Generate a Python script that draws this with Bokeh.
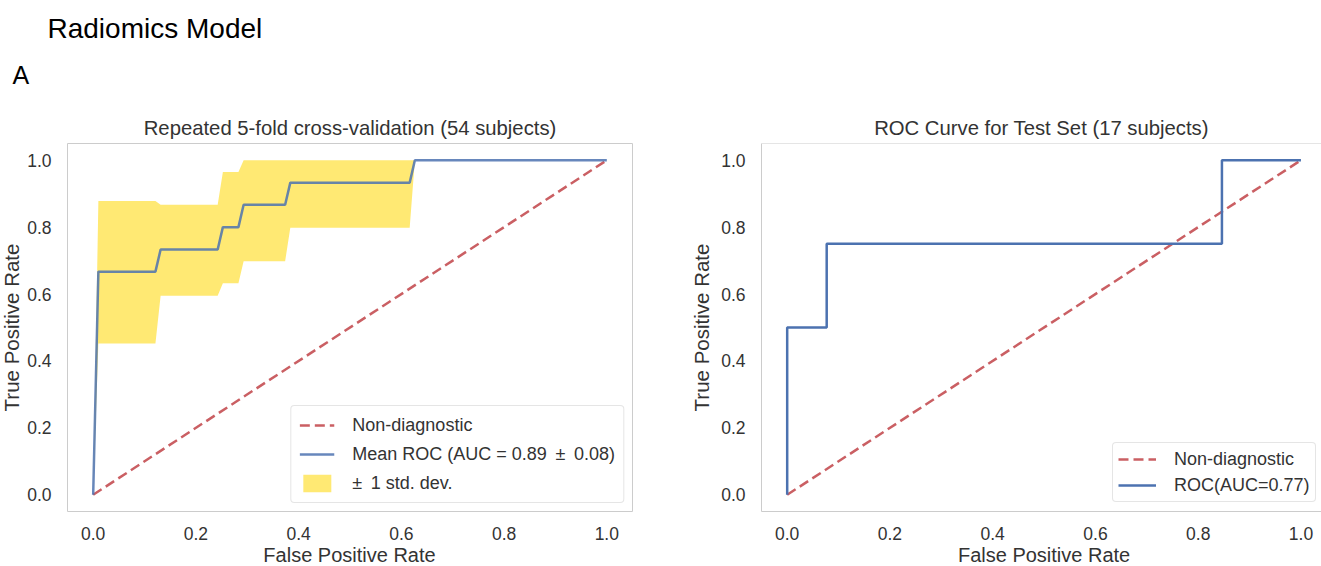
import math

from bokeh.plotting import figure
from bokeh.layouts import row, column
from bokeh.models import (FixedTicker, PrintfTickFormatter, Legend, LegendItem,
                          Range1d, Span)
from bokeh.core.properties import value
from bokeh.embed import file_html
from bokeh.resources import INLINE

# Repeated 5-fold cross-validation: vertices of the mean ROC curve and its +/- 1 std band
cv_fpr = [0.0, 0.0101, 0.1212, 0.1313, 0.2424, 0.2525, 0.2828, 0.2929,
          0.3737, 0.3838, 0.6162, 0.6263, 1.0]
cv_tpr = [0.0, 0.667, 0.667, 0.733, 0.733, 0.800, 0.800, 0.867,
          0.867, 0.933, 0.933, 1.0, 1.0]
cv_tpr_upper = [0.0, 0.878, 0.878, 0.867, 0.867, 0.965, 0.965, 1.0,
                1.0, 1.0, 1.0, 1.0, 1.0]
cv_tpr_lower = [0.0, 0.452, 0.452, 0.595, 0.595, 0.632, 0.632, 0.698,
                0.698, 0.798, 0.798, 1.0, 1.0]
cv_auc_mean = 0.89
cv_auc_std = 0.08

# Held-out test set ROC (17 subjects)
test_fpr = [0.0, 0.0, 0.0769, 0.0769, 0.8462, 0.8462, 1.0]
test_tpr = [0.0, 0.5, 0.5, 0.75, 0.75, 1.0, 1.0]
test_auc = 0.77

chance_line = [0.0, 1.0]
tick_values = [0.0, 0.2, 0.4, 0.6, 0.8, 1.0]
x_label = "False Positive Rate"
y_label = "True Positive Rate"

FONT = "Liberation Sans"
TEXT = "#333333"
EDGE = "#cccccc"
BLUE = "#4c72b0"
RED = "#c44e52"
GOLD = "#ffd700"
LABEL_SIZE = "20.5px"
XLABEL_SIZE = "20px"
HEADER_H = 100
TOP_B = 43
BOTTOM_B = 32
MID_H = TOP_B + 368 + BOTTOM_B
FOOT_H = 566 - HEADER_H - MID_H
STRIP_W = 24


def bare_fig(width, height, x_range, y_range, **borders):
    f = figure(width=width, height=height, x_range=x_range, y_range=y_range,
               output_backend="svg", toolbar_location=None,
               x_axis_location=None, y_axis_location=None, **borders)
    f.outline_line_color = None
    f.xgrid.visible = False
    f.ygrid.visible = False
    return f


# ---- page heading ----
header = bare_fig(1321, HEADER_H, Range1d(0, 1321), Range1d(HEADER_H, 0), min_border=0)
header.text(x=[47], y=[28], text=["Radiomics Model"], text_font=value(FONT),
            text_font_size=value("28px"), text_baseline="middle", text_color="black")
header.text(x=[12], y=[74], text=["A"], text_font=value(FONT),
            text_font_size=value("25px"), text_baseline="middle", text_color="black")


def make_fig(title, width, border_left, border_right, x_end):
    p = figure(width=width, height=MID_H, title=title,
               x_range=Range1d(-0.05, x_end), y_range=Range1d(-0.05, 1.05),
               output_backend="svg", toolbar_location=None,
               min_border_left=border_left, min_border_right=border_right,
               min_border_top=TOP_B, min_border_bottom=BOTTOM_B)
    p.title.align = "center"
    p.title.text_font = FONT
    p.title.text_font_size = "20.3px"
    p.title.text_font_style = "normal"
    p.title.text_color = TEXT
    p.title.standoff = 9
    p.xgrid.visible = False
    p.ygrid.visible = False
    p.background_fill_color = "white"
    p.border_fill_color = "white"
    for ax in (p.xaxis[0], p.yaxis[0]):
        ax.ticker = FixedTicker(ticks=tick_values)
        ax.formatter = PrintfTickFormatter(format="%.1f")
        ax.major_tick_line_color = None
        ax.minor_tick_line_color = None
        ax.axis_line_color = None
        ax.major_label_text_font = FONT
        ax.major_label_text_font_size = "17.5px"
        ax.major_label_text_color = TEXT
        ax.axis_label_text_font = FONT
        ax.axis_label_text_font_size = LABEL_SIZE
        ax.axis_label_text_font_style = "normal"
        ax.axis_label_text_color = TEXT
    p.xaxis.major_label_standoff = 9
    p.yaxis.major_label_standoff = 10
    return p


def style_legend(leg, padding, spacing, glyph_width):
    leg.label_text_font = FONT
    leg.label_text_font_size = "18px"
    leg.label_text_color = TEXT
    leg.border_line_color = EDGE
    leg.border_line_width = 1
    leg.border_radius = 4
    leg.background_fill_alpha = 0.8
    leg.glyph_width = glyph_width
    leg.glyph_height = 22
    leg.label_height = 22
    leg.label_standoff = 18
    leg.padding = padding
    leg.spacing = spacing


# ---- left panel: cross-validation ----
p1 = make_fig("Repeated 5-fold cross-validation (54 subjects)", 680 - STRIP_W,
              66 - STRIP_W, 48, 1.05)
p1.outline_line_color = EDGE
p1.outline_line_width = 1

band = p1.varea(x=cv_fpr, y1=cv_tpr_lower, y2=cv_tpr_upper,
                fill_color=GOLD, fill_alpha=0.55)
chance1 = p1.line(chance_line, chance_line, line_color=RED, line_width=2.5,
                  line_dash="10 5", line_alpha=0.9)
mean_roc = p1.line(cv_fpr, cv_tpr, line_color=BLUE, line_width=2.5, line_alpha=0.85)

leg1 = Legend(items=[
    LegendItem(label="Non-diagnostic", renderers=[chance1]),
    LegendItem(label=f"Mean ROC (AUC = {cv_auc_mean:.2f} \u2009\u00b1\u2009 {cv_auc_std:.2f})",
               renderers=[mean_roc]),
    LegendItem(label="\u00b1\u2009 1 std. dev.", renderers=[band]),
], location="bottom_right", margin=8)
style_legend(leg1, 8, 7, 35)
p1.add_layout(leg1)

# y-axis title of the left panel, in its own strip aligned with the panel frame
ystrip = bare_fig(STRIP_W, MID_H, Range1d(0, STRIP_W), p1.y_range,
                  min_border_left=0, min_border_right=0,
                  min_border_top=TOP_B, min_border_bottom=BOTTOM_B)
ystrip.text(x=[11], y=[0.5], text=[y_label], angle=math.pi / 2,
            text_font=value(FONT), text_font_size=value(LABEL_SIZE),
            text_align="center", text_baseline="middle", text_color=TEXT)

# ---- right panel: test set ----
p2 = make_fig("ROC Curve for Test Set (17 subjects)", 641, 81, 0, 1.04)
p2.outline_line_color = None
p2.xaxis.axis_line_color = EDGE
p2.yaxis.axis_line_color = EDGE
p2.yaxis.axis_label = y_label
p2.yaxis.axis_label_standoff = 5
p2.add_layout(Span(location=1.05, dimension="width", line_color=EDGE, line_width=1))

chance2 = p2.line(chance_line, chance_line, line_color=RED, line_width=2.5,
                  line_dash="10 5", line_alpha=0.9)
test_roc = p2.line(test_fpr, test_tpr, line_color=BLUE, line_width=2.5)

leg2 = Legend(items=[
    LegendItem(label="Non-diagnostic", renderers=[chance2]),
    LegendItem(label=f"ROC(AUC={test_auc:.2f})", renderers=[test_roc]),
], location=(351, 9))
style_legend(leg2, 5, 4, 38)
p2.add_layout(leg2)

# ---- x-axis titles, centred under each panel frame ----
foot1 = bare_fig(680, FOOT_H, p1.x_range, Range1d(0, FOOT_H),
                 min_border_left=66, min_border_right=48,
                 min_border_top=0, min_border_bottom=0)
foot2 = bare_fig(641, FOOT_H, p2.x_range, Range1d(0, FOOT_H),
                 min_border_left=81, min_border_right=0,
                 min_border_top=0, min_border_bottom=0)
for f in (foot1, foot2):
    f.text(x=[0.5], y=[FOOT_H], text=[x_label], text_font=value(FONT),
           text_font_size=value(XLABEL_SIZE), text_align="center",
           text_baseline="top", text_color=TEXT)

layout = column(header, row(ystrip, p1, p2), row(foot1, foot2))
open("out.html", "w").write(file_html(layout, INLINE))
